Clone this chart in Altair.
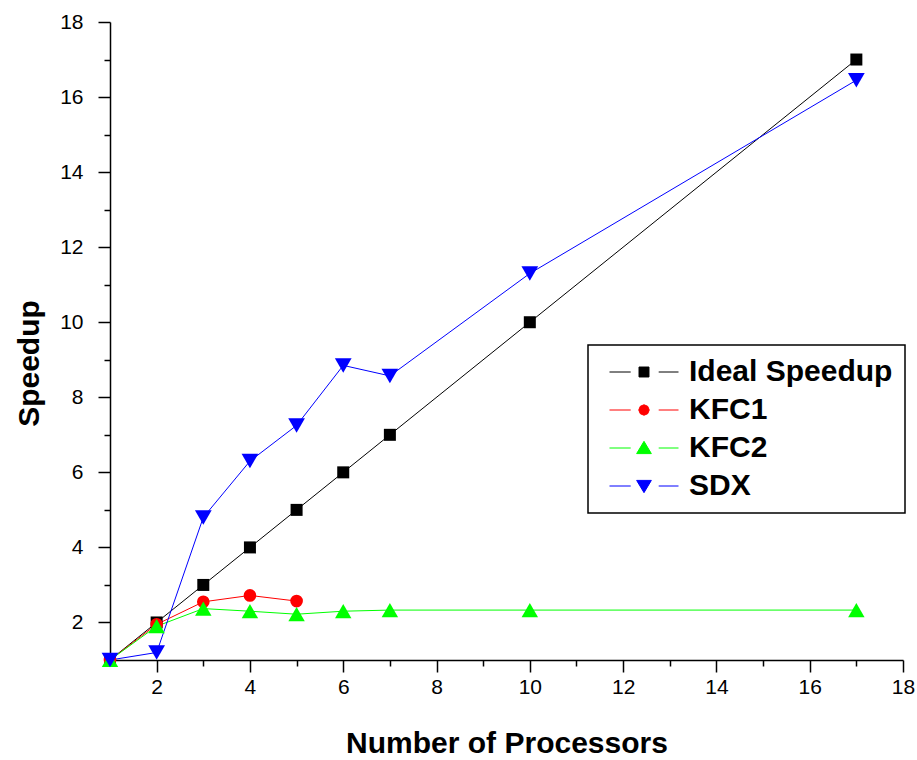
import altair as alt
import pandas as pd

# ---- data ----
series_names = ["Ideal Speedup", "KFC1", "KFC2", "SDX"]
series_colors = ["#000000", "#ff0000", "#00ff00", "#0000ff"]
series_shapes = ["square", "circle", "triangle-up", "triangle-down"]

ideal_x = [1, 2, 3, 4, 5, 6, 7, 10, 17]
ideal_y = [1, 2, 3, 4, 5, 6, 7, 10, 17]

kfc1_x = [1, 2, 3, 4, 5]
kfc1_y = [1, 1.95, 2.55, 2.72, 2.57]

kfc2_x = [1, 2, 3, 4, 5, 6, 7, 10, 17]
kfc2_y = [1, 1.9, 2.37, 2.3, 2.22, 2.3, 2.33, 2.33, 2.33]

sdx_x = [1, 2, 3, 4, 5, 6, 7, 10, 17]
sdx_y = [1, 1.2, 4.8, 6.3, 7.25, 8.85, 8.57, 11.3, 16.45]

major_ticks = [2, 4, 6, 8, 10, 12, 14, 16, 18]
minor_ticks = [1, 3, 5, 7, 9, 11, 13, 15, 17]

rows = []
for name, xs, ys in [("Ideal Speedup", ideal_x, ideal_y), ("KFC1", kfc1_x, kfc1_y),
                     ("KFC2", kfc2_x, kfc2_y), ("SDX", sdx_x, sdx_y)]:
    for i, (a, b) in enumerate(zip(xs, ys)):
        rows.append({"series": name, "x": a, "y": b, "order": i})
df = pd.DataFrame(rows)

FONT = "Liberation Sans"

# legend symbols: line segments + marker as custom paths
seg = "M-4.93,0L-1.9,0M2.1,0L4.93,0"
legend_paths = [
    seg + "M-0.71,-0.71L0.71,-0.71L0.71,0.71L-0.71,0.71Z",
    seg + "M-0.75,0L-0.53,-0.53L0,-0.75L0.53,-0.53L0.75,0L0.53,0.53L0,0.75L-0.53,0.53Z",
    seg + "M0,-0.95L1.05,0.8L-1.05,0.8Z",
    seg + "M0,0.95L1.05,-0.8L-1.05,-0.8Z",
]

xscale = alt.Scale(domain=[1, 18], nice=False, zero=False)
yscale = alt.Scale(domain=[1, 18], nice=False, zero=False)

common_axis = dict(grid=False, labelFont=FONT, labelFontSize=21, labelColor="black",
                   labelFlush=False, titleFont=FONT, titleFontSize=30,
                   titleFontWeight="bold", titleColor="black", domainColor="black",
                   domainWidth=1.5, tickColor="black", tickWidth=1.5)

x_major = alt.X("x:Q", scale=xscale,
                axis=alt.Axis(values=major_ticks, tickSize=12, labelPadding=4, orient="bottom",
                              title="Number of Processors", titleY=92,
                              titleBaseline="alphabetic", **common_axis))
y_major = alt.Y("y:Q", scale=yscale,
                axis=alt.Axis(values=major_ticks, tickSize=12, labelPadding=15, orient="left",
                              title="Speedup", titleAngle=270, titleX=-72, titleY=341,
                              titleAlign="center", titleBaseline="alphabetic",
                              **common_axis))
x_minor = alt.X("x:Q", scale=xscale,
                axis=alt.Axis(values=minor_ticks, tickSize=6, labels=False, title=None, orient="bottom",
                              domain=False, grid=False, tickColor="black", tickWidth=1.5))
y_minor = alt.Y("y:Q", scale=yscale,
                axis=alt.Axis(values=minor_ticks, tickSize=6, labels=False, title=None, orient="left",
                              domain=False, grid=False, tickColor="black", tickWidth=1.5))
x_none = alt.X("x:Q", scale=xscale, axis=None)
y_none = alt.Y("y:Q", scale=yscale, axis=None)

base = alt.Chart(df)

minor_layer = base.transform_filter("datum.x < 0").mark_point().encode(x=x_minor, y=y_minor)

line_layers = []
for i, (name, col) in enumerate(zip(series_names, series_colors)):
    enc_x = x_major if i == 0 else x_none
    enc_y = y_major if i == 0 else y_none
    line_layers.append(
        base.transform_filter(alt.datum.series == name)
        .mark_line(strokeWidth=1, color=col)
        .encode(x=enc_x, y=enc_y, order="order:Q")
    )

marker_sizes = [144, 160, 270, 280]
marker_layers = []
for name, shape, size, col in zip(series_names, series_shapes, marker_sizes, series_colors):
    marker_layers.append(
        base.transform_filter(alt.datum.series == name)
        .mark_point(filled=True, shape=shape, size=size, color=col, opacity=1)
        .encode(x=x_none, y=y_none)
    )

legend_layer = base.transform_filter("datum.x < 0").mark_point(filled=True, size=196, opacity=1).encode(
    x=x_none, y=y_none,
    fill=alt.Fill("series:N", scale=alt.Scale(domain=series_names, range=series_colors),
                  legend=alt.Legend(title=None, orient="none", legendX=478, legendY=323,
                                    direction="vertical", symbolSize=196, symbolOffset=29,
                                    labelOffset=30, labelFont=FONT, labelFontSize=30,
                                    labelFontWeight="bold", labelColor="black",
                                    labelLimit=400, rowPadding=8, symbolStrokeWidth=1,
                                    symbolOpacity=1, padding=12, strokeColor="black")),
    stroke=alt.Stroke("series:N", scale=alt.Scale(domain=series_names, range=series_colors)),
    shape=alt.Shape("series:N", scale=alt.Scale(domain=series_names, range=legend_paths)),
)

chart = alt.layer(minor_layer, *line_layers, *marker_layers, legend_layer).resolve_axis(
    x="independent", y="independent"
).properties(
    width=793, height=638,
    padding={"left": 110, "top": 22, "right": 14, "bottom": 100},
    autosize=alt.AutoSizeParams(type="none"),
    background="white",
).configure_view(stroke=None).configure_legend(strokeWidth=1.5)

chart.save("out.html", embed_options={"renderer": "svg", "actions": False})
